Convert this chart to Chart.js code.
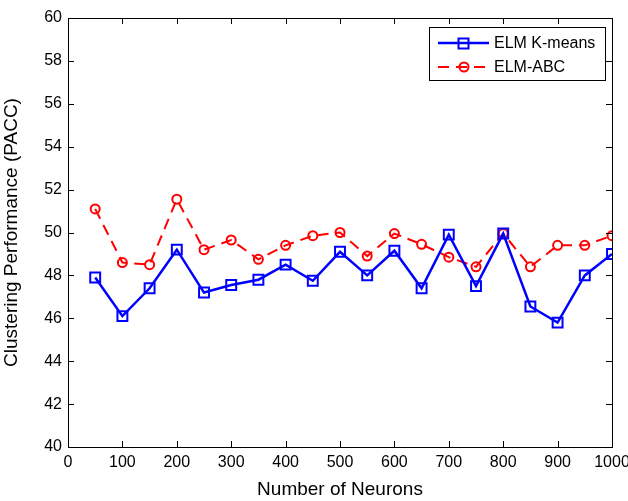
<!DOCTYPE html>
<html>
<head>
<meta charset="utf-8">
<script src="https://cdn.jsdelivr.net/npm/chart.js@4/dist/chart.umd.min.js"></script>
<style>
  html, body { margin: 0; padding: 0; background: #fff; }
  #wrap { width: 628px; height: 501px; }
</style>
</head>
<body>
<div id="wrap"><canvas id="chart" width="628" height="501"></canvas></div>
<script>
// datos
const neurons = [50, 100, 150, 200, 250, 300, 350, 400, 450, 500, 550, 600, 650, 700, 750, 800, 850, 900, 950, 1000];
const elmKmeans = [47.9, 46.1, 47.4, 49.2, 47.2, 47.55, 47.8, 48.5, 47.75, 49.1, 48.0, 49.15, 47.4, 49.9, 47.5, 49.95, 46.55, 45.8, 48.0, 49.0];
const elmAbc = [51.1, 48.6, 48.5, 51.55, 49.2, 49.65, 48.75, 49.4, 49.85, 50.0, 48.9, 49.95, 49.45, 48.85, 48.4, 49.95, 48.4, 49.4, 49.4, 49.85];
const xTicks = [0, 100, 200, 300, 400, 500, 600, 700, 800, 900, 1000];
const yTicks = [40, 42, 44, 46, 48, 50, 52, 54, 56, 58, 60];
const seriesNames = ["ELM K-means", "ELM-ABC"];

const FONT = "'Liberation Sans', Arial, sans-serif";

const toPoints = (ys) => neurons.map((x, i) => ({ x: x, y: ys[i] }));

// caja estilo matlab con ticks hacia dentro + leyenda
const boxPlugin = {
  id: "boxPlugin",
  afterDraw(chart) {
    const ctx = chart.ctx;
    const a = chart.chartArea;
    const xs = chart.scales.x;
    const ys = chart.scales.y;
    const len = 6;
    ctx.save();
    ctx.strokeStyle = "#000";
    ctx.lineWidth = 1;
    ctx.strokeRect(a.left + 0.5, a.top + 0.5, a.right - a.left, a.bottom - a.top);
    ctx.beginPath();
    xTicks.forEach(v => {
      const px = Math.round(xs.getPixelForValue(v)) + 0.5;
      ctx.moveTo(px, a.bottom); ctx.lineTo(px, a.bottom - len);
      ctx.moveTo(px, a.top); ctx.lineTo(px, a.top + len);
    });
    yTicks.forEach(v => {
      const py = Math.round(ys.getPixelForValue(v)) + 0.5;
      ctx.moveTo(a.left, py); ctx.lineTo(a.left + len, py);
      ctx.moveTo(a.right, py); ctx.lineTo(a.right - len, py);
    });
    ctx.stroke();

    // leyenda
    const lx = 429, ly = 27, lw = 176, lh = 53;
    ctx.fillStyle = "#fff";
    ctx.fillRect(lx, ly, lw, lh);
    ctx.strokeRect(lx + 0.5, ly + 0.5, lw, lh);
    const rows = [43, 67];
    chart.data.datasets.forEach((ds, i) => {
      const y = rows[i];
      ctx.strokeStyle = ds.borderColor;
      ctx.lineWidth = ds.borderWidth;
      ctx.setLineDash(ds.borderDash || []);
      ctx.beginPath();
      ctx.moveTo(438, y); ctx.lineTo(489, y);
      ctx.stroke();
      ctx.setLineDash([]);
      ctx.lineWidth = 2;
      ctx.beginPath();
      if (ds.pointStyle === "rect") {
        ctx.rect(458.5, y - 4.5, 10, 10);
      } else {
        ctx.arc(464, y, 4.5, 0, Math.PI * 2);
      }
      ctx.stroke();
      ctx.fillStyle = "#000";
      ctx.font = "16px " + FONT;
      ctx.textBaseline = "middle";
      ctx.textAlign = "left";
      ctx.fillText(seriesNames[i], 494, y + 1);
    });
    ctx.restore();
  }
};

new Chart(document.getElementById("chart"), {
  type: "line",
  data: {
    datasets: [
      {
        label: seriesNames[0],
        data: toPoints(elmKmeans),
        borderColor: "#0000ff",
        borderWidth: 2.5,
        pointStyle: "rect",
        pointRadius: 7,
        pointBorderWidth: 2,
        pointBackgroundColor: "rgba(0,0,0,0)",
        pointBorderColor: "#0000ff",
        tension: 0,
        fill: false
      },
      {
        label: seriesNames[1],
        data: toPoints(elmAbc),
        borderColor: "#ff0000",
        borderWidth: 2,
        borderDash: [11, 7],
        pointStyle: "circle",
        pointRadius: 4.5,
        pointBorderWidth: 2,
        pointBackgroundColor: "rgba(0,0,0,0)",
        pointBorderColor: "#ff0000",
        tension: 0,
        fill: false
      }
    ]
  },
  options: {
    responsive: false,
    animation: false,
    layout: { padding: { left: 0, top: 18, right: 16, bottom: 0 } },
    plugins: {
      legend: { display: false },
      tooltip: { enabled: false }
    },
    scales: {
      x: {
        type: "linear",
        min: 0,
        max: 1000,
        afterBuildTicks: (s) => { s.ticks = xTicks.map(v => ({ value: v })); },
        afterFit: (s) => { s.height = 54; s.paddingLeft = 0; s.paddingRight = 0; },
        grid: { display: false, drawTicks: false },
        border: { display: false },
        ticks: { color: "#000", font: { family: FONT, size: 16 }, padding: 6, maxRotation: 0, callback: (v) => String(v) },
        title: { display: true, text: "Number of Neurons", color: "#000", font: { family: FONT, size: 19 }, padding: { top: 0, bottom: 0 } }
      },
      y: {
        min: 40,
        max: 60,
        afterBuildTicks: (s) => { s.ticks = yTicks.map(v => ({ value: v })); },
        afterFit: (s) => { s.width = 68; s.paddingTop = 0; s.paddingBottom = 0; },
        grid: { display: false, drawTicks: false },
        border: { display: false },
        ticks: { color: "#000", font: { family: FONT, size: 16 }, padding: 6, callback: (v) => String(v) },
        title: { display: true, text: "Clustering Performance (PACC)", color: "#000", font: { family: FONT, size: 19 }, padding: { top: 0, bottom: 0 } }
      }
    }
  },
  plugins: [boxPlugin]
});
</script>
</body>
</html>
